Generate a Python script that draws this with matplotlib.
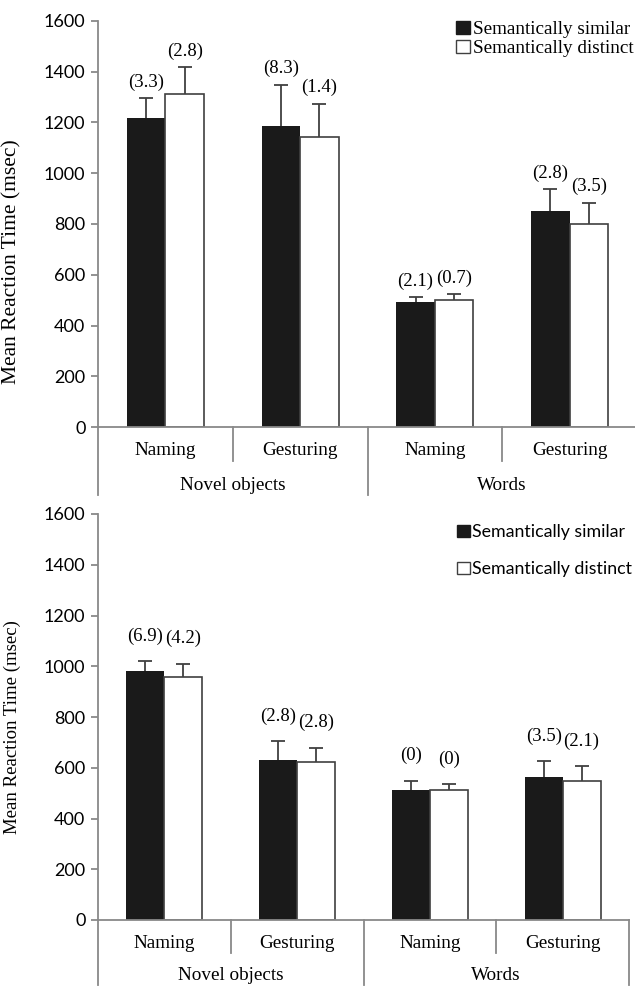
import numpy as np
import matplotlib.pyplot as plt
from matplotlib.patches import Patch

# bar data (msec); labels above the bars are given as text
conditions = ['Naming', 'Gesturing', 'Naming', 'Gesturing']
stimuli = ['Novel objects', 'Words']
series = ['Semantically similar', 'Semantically distinct']

top_similar = [1218, 1187, 492, 853]
top_similar_err = [76, 161, 20, 84]
top_distinct = [1311, 1144, 502, 799]
top_distinct_err = [106, 129, 22, 85]
top_similar_lbl = ['(3.3)', '(8.3)', '(2.1)', '(2.8)']
top_distinct_lbl = ['(2.8)', '(1.4)', '(0.7)', '(3.5)']

bot_similar = [983, 630, 514, 564]
bot_similar_err = [38, 75, 35, 62]
bot_distinct = [959, 623, 514, 549]
bot_distinct_err = [51, 56, 22, 57]
bot_similar_lbl = ['(6.9)', '(2.8)', '(0)', '(3.5)']
bot_distinct_lbl = ['(4.2)', '(2.8)', '(0)', '(2.1)']

SERIF = 'Liberation Serif'
SANS = 'Lato'
GREY = '#898989'
DARK = '#404040'
FS = 13.8

fig = plt.figure(figsize=(6.35, 9.86), dpi=100)
ax_top = fig.add_axes([98 / 635, 1 - 427.3 / 986, 539 / 635, 406.6 / 986])
ax_bot = fig.add_axes([98 / 635, 1 - 920 / 986, 531 / 635, 406 / 986])


def draw_panel(ax, sim, sim_err, dis, dis_err, sim_lbl, dis_lbl, gap,
               leg_font, leg_size, leg_anchor, leg_spacing, txt_y, sep_y,
               ylab_size, ylab_pos):
    x = np.arange(len(conditions)) + 0.5
    w = 0.286
    ekw = dict(ecolor=DARK, elinewidth=1.3, capsize=5, capthick=1.3)
    b1 = ax.bar(x - w / 2, sim, w, color='#1a1a1a', edgecolor='none',
                yerr=[np.zeros(len(sim)), sim_err], error_kw=ekw, zorder=2)
    b2 = ax.bar(x + w / 2, dis, w, color='white', edgecolor=DARK, linewidth=1.2,
                yerr=[np.zeros(len(dis)), dis_err], error_kw=ekw, zorder=2)
    # only the upper cap is wanted
    for b in (b1, b2):
        b.errorbar.lines[1][0].set_visible(False)

    for i in range(len(x)):
        ax.annotate(sim_lbl[i], (x[i] - w / 2, sim[i] + sim_err[i]),
                    xytext=(0, gap), textcoords='offset pixels',
                    ha='center', va='center', family=SERIF, fontsize=FS - 0.3)
        ax.annotate(dis_lbl[i], (x[i] + w / 2, dis[i] + dis_err[i]),
                    xytext=(0, gap), textcoords='offset pixels',
                    ha='center', va='center', family=SERIF, fontsize=FS - 0.3)

    ax.set_xlim(0, 4)
    ax.set_ylim(0, 1600)
    ax.set_yticks(range(0, 1601, 200))
    ax.set_xticks([])
    for lbl in ax.get_yticklabels():
        lbl.set_family(SANS)
        lbl.set_fontsize(13)
    ax.tick_params(axis='y', color=GREY, length=5, width=1.3, pad=4)
    for s in ['top', 'right']:
        ax.spines[s].set_visible(False)
    for s in ['left', 'bottom']:
        ax.spines[s].set_color(GREY)
        ax.spines[s].set_linewidth(1.3)

    # grouped category axis below the bars
    tr = ax.get_xaxis_transform()
    h = ax.get_position().height * 986
    for xs in [1, 3]:
        ax.plot([xs, xs], [0, -sep_y[0] / h], color=GREY, lw=1.3,
                transform=tr, clip_on=False)
    for xs in [0, 2, 4]:
        ax.plot([xs, xs], [0, -sep_y[1] / h], color=GREY, lw=1.3,
                transform=tr, clip_on=False)
    for i, c in enumerate(conditions):
        ax.text(x[i], -txt_y[0] / h, c, transform=tr, ha='center', va='center',
                family=SERIF, fontsize=FS)
    for i, s in enumerate(stimuli):
        ax.text(2 * i + 1, -txt_y[1] / h, s, transform=tr, ha='center',
                va='center', family=SERIF, fontsize=FS)

    ax.set_ylabel('Mean Reaction Time (msec)', family=SERIF, fontsize=ylab_size)
    ax.yaxis.set_label_coords(-(98 - 21) / (ax.get_position().width * 635), ylab_pos)

    handles = [Patch(facecolor='#1a1a1a', edgecolor='#1a1a1a', label=series[0]),
               Patch(facecolor='white', edgecolor=DARK, label=series[1])]
    ax.legend(handles=handles, loc='upper right', bbox_to_anchor=leg_anchor,
              frameon=False, prop={'family': leg_font, 'size': leg_size},
              handlelength=0.7, handleheight=0.7, handletextpad=0.15,
              labelspacing=leg_spacing, borderaxespad=0, borderpad=0)


draw_panel(ax_top, top_similar, top_similar_err, top_distinct, top_distinct_err,
           top_similar_lbl, top_distinct_lbl, 16,
           SERIF, FS, (0.993, 1.0), 0.1, (22.7, 57.7), (33.4, 68),
           15.5, 0.407)
draw_panel(ax_bot, bot_similar, bot_similar_err, bot_distinct, bot_distinct_err,
           bot_similar_lbl, bot_distinct_lbl, 25,
           SANS, 12.8, (1.006, 0.975), 1.2, (23, 56), (33, 65),
           13.5, 0.474)

fig.savefig('out.png', dpi=100)
